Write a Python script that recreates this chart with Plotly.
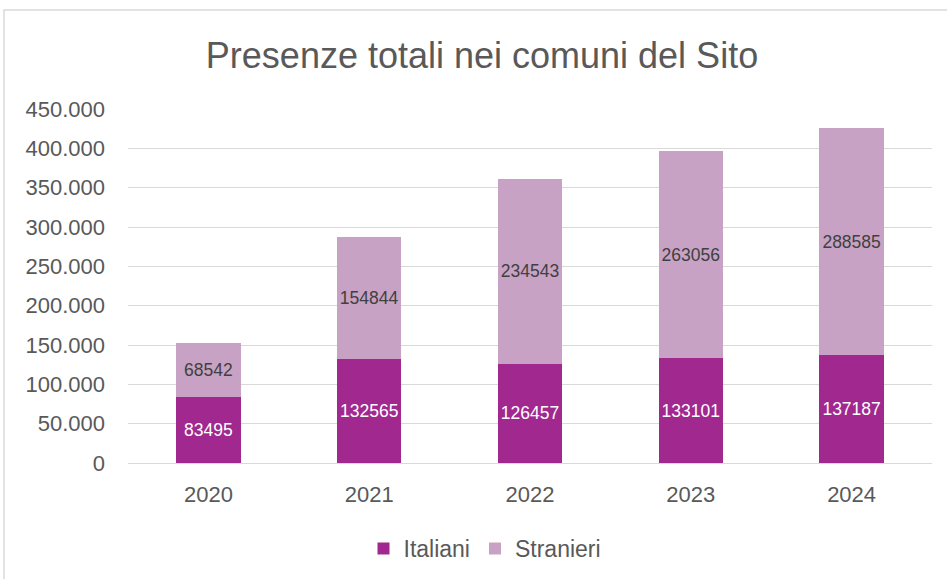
import plotly.graph_objects as go

years = ["2020", "2021", "2022", "2023", "2024"]
italiani = [83495, 132565, 126457, 133101, 137187]
stranieri = [68542, 154844, 234543, 263056, 288585]
y_ticks = [0, 50000, 100000, 150000, 200000, 250000, 300000, 350000, 400000, 450000]

L, R, T, B = 128, 15, 109, 116
W, H = 947, 579
pw, ph = W - L - R, H - T - B

fig = go.Figure()
fig.add_trace(go.Bar(
    x=years, y=italiani, name="Italiani", marker_color="#A0288F",
    text=[str(v) for v in italiani], textposition="inside", insidetextanchor="middle",
    textangle=0, constraintext="none",
    textfont=dict(color="white", size=17.5), marker_line_width=0))
fig.add_trace(go.Bar(
    x=years, y=stranieri, name="Stranieri", marker_color="#C8A2C4",
    text=[str(v) for v in stranieri], textposition="inside", insidetextanchor="middle",
    textangle=0, constraintext="none",
    textfont=dict(color="#404040", size=17.5), marker_line_width=0))

fig.update_layout(
    barmode="stack", bargap=0.6,
    width=W, height=H,
    margin=dict(l=L, r=R, t=T, b=B, autoexpand=False),
    paper_bgcolor="white", plot_bgcolor="white",
    separators=",.",
    font=dict(family="Liberation Sans, Arial, sans-serif", color="#595959", size=22),
    title=dict(text="Presenze totali nei comuni del Sito", x=482 / W, xanchor="center",
               y=1 - 55 / H, yanchor="middle", xref="container", yref="container",
               font=dict(size=36, color="#595959")),
    legend=dict(orientation="h", x=485 / W, xanchor="center", xref="container",
                y=1 - 527 / H, yanchor="top", yref="container",
                font=dict(size=23, color="#595959"),
                traceorder="normal", itemwidth=30),
    uniformtext=dict(mode=False),
    shapes=[dict(type="rect", xref="paper", yref="paper",
                 x0=(4 - L) / pw, x1=(990 - L) / pw,
                 y0=(463 - 620) / ph, y1=(463 - 10) / ph,
                 line=dict(color="#d9d9d9", width=1.5), fillcolor="rgba(0,0,0,0)", layer="below")],
)
fig.update_yaxes(range=[0, 450000], tickvals=y_ticks, tickformat=",d", automargin=False,
                 gridcolor="#d9d9d9", gridwidth=1, zeroline=False, showline=False,
                 ticks="", ticklabelstandoff=22, tickfont=dict(size=22, color="#595959"))
fig.update_xaxes(showline=True, linecolor="#d9d9d9", linewidth=1, ticks="", automargin=False,
                 tickfont=dict(size=22, color="#595959"), ticklabelstandoff=12)

fig.write_html("out.html", config={"displayModeBar": False},
               post_script="document.body.style.margin='0';document.body.style.padding='0';")
